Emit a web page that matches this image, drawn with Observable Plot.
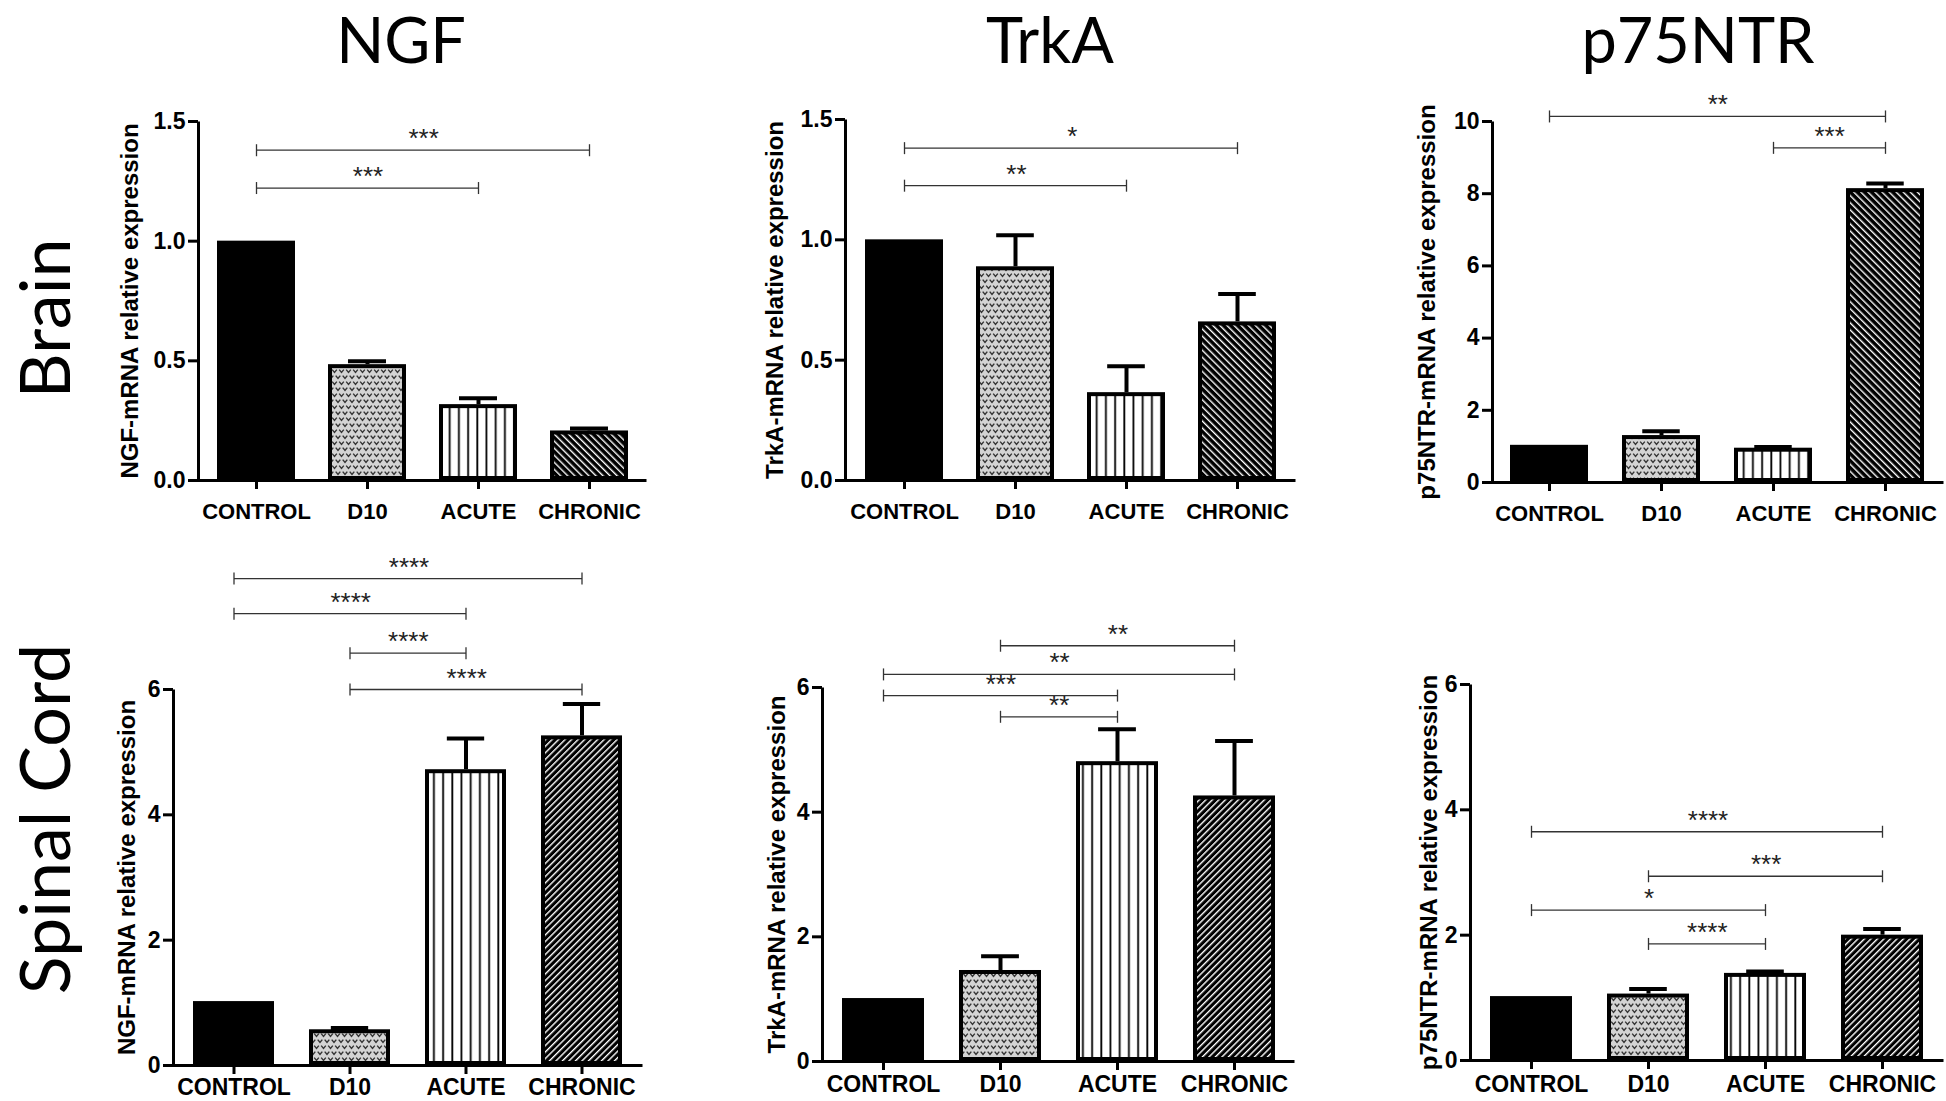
<!DOCTYPE html>
<html>
<head>
<meta charset="utf-8">
<script src="https://cdn.jsdelivr.net/npm/d3@7"></script>
<script src="https://cdn.jsdelivr.net/npm/@observablehq/plot@0.6"></script>
<style>
html, body { margin: 0; padding: 0; background: #fff; overflow: hidden; }
#fig { position: relative; width: 1946px; height: 1101px; overflow: hidden; background: #fff; }
.panel { position: absolute; }
#labels { position: absolute; left: 0; top: 0; pointer-events: none; }
</style>
</head>
<body>
<div id="fig"></div>
<script>
// ---------------- DATA ----------------
const categories = ["CONTROL", "D10", "ACUTE", "CHRONIC"];
const genes = ["NGF", "TrkA", "p75NTR"];
const tissues = ["Brain", "Spinal Cord"];

// Brain: mean and SEM (upper error only)
const ngfBrainMean  = [1.00, 0.484, 0.317, 0.207];
const ngfBrainSem   = [0, 0.014, 0.027, 0.010];
const trkaBrainMean = [1.00, 0.888, 0.365, 0.659];
const trkaBrainSem  = [0, 0.131, 0.110, 0.116];
const p75BrainMean  = [1.03, 1.30, 0.95, 8.14];
const p75BrainSem   = [0, 0.12, 0.03, 0.14];

// Spinal cord
const ngfSpinalMean  = [1.02, 0.57, 4.72, 5.26];
const ngfSpinalSem   = [0, 0.03, 0.50, 0.51];
const trkaSpinalMean = [1.01, 1.46, 4.81, 4.26];
const trkaSpinalSem  = [0, 0.23, 0.52, 0.88];
const p75SpinalMean  = [1.02, 1.06, 1.39, 2.00];
const p75SpinalSem   = [0, 0.08, 0.03, 0.10];

// Significance brackets: [from, to, level, label]
const ngfBrainSig = [["CONTROL", "CHRONIC", 1.38, "***"], ["CONTROL", "ACUTE", 1.222, "***"]];
const trkaBrainSig = [["CONTROL", "CHRONIC", 1.381, "*"], ["CONTROL", "ACUTE", 1.225, "**"]];
const p75BrainSig = [["CONTROL", "CHRONIC", 10.14, "**"], ["ACUTE", "CHRONIC", 9.27, "***"]];
const ngfSpinalSig = [["CONTROL", "CHRONIC", 7.77, "****"], ["CONTROL", "ACUTE", 7.21, "****"],
                      ["D10", "ACUTE", 6.58, "****"], ["D10", "CHRONIC", 6.0, "****"]];
const trkaSpinalSig = [["D10", "CHRONIC", 6.67, "**"], ["CONTROL", "CHRONIC", 6.21, "**"],
                       ["CONTROL", "ACUTE", 5.87, "***"], ["D10", "ACUTE", 5.53, "**"]];
const p75SpinalSig = [["CONTROL", "CHRONIC", 3.65, "****"], ["D10", "CHRONIC", 2.94, "***"],
                      ["CONTROL", "ACUTE", 2.40, "*"], ["D10", "ACUTE", 1.86, "****"]];

// Axis ticks and labels
const brainLowTicks = [0, 0.5, 1.0, 1.5];
const p75BrainTicks = [0, 2, 4, 6, 8, 10];
const spinalTicks = [0, 2, 4, 6];
const yLabels = ["NGF-mRNA relative expression", "TrkA-mRNA relative expression", "p75NTR-mRNA relative expression"];

// ---------------- LAYOUT (pixels) ----------------
const W = 1946, H = 1101;
const FONT = "'Liberation Sans', Arial, Helvetica, sans-serif";
const panels = [
  {id: "nb", mean: ngfBrainMean, sem: ngfBrainSem, sig: ngfBrainSig, ticks: brainLowTicks, fmt: d3.format(".1f"), ylabel: yLabels[0],
   axisX: 198, xEnd: 646, yTop: 121, y0: 480, svgTop: 80, labelOff: 68, xPad: 14, xFont: 22, row: 0},
  {id: "tb", mean: trkaBrainMean, sem: trkaBrainSem, sig: trkaBrainSig, ticks: brainLowTicks, fmt: d3.format(".1f"), ylabel: yLabels[1],
   axisX: 845, xEnd: 1295, yTop: 119, y0: 479.5, svgTop: 80, labelOff: 70, xPad: 14, xFont: 22, row: 0},
  {id: "pb", mean: p75BrainMean, sem: p75BrainSem, sig: p75BrainSig, ticks: p75BrainTicks, fmt: d3.format("d"), ylabel: yLabels[2],
   axisX: 1492, xEnd: 1943, yTop: 120.5, y0: 481.5, svgTop: 80, labelOff: 65, xPad: 14, xFont: 22, row: 0},
  {id: "ns", mean: ngfSpinalMean, sem: ngfSpinalSem, sig: ngfSpinalSig, ticks: spinalTicks, fmt: d3.format("d"), ylabel: yLabels[0],
   axisX: 172.6, xEnd: 642, yTop: 688.5, y0: 1065, svgTop: 540, labelOff: 46, xPad: 4, xFont: 23, row: 1},
  {id: "ts", mean: trkaSpinalMean, sem: trkaSpinalSem, sig: trkaSpinalSig, ticks: spinalTicks, fmt: d3.format("d"), ylabel: yLabels[1],
   axisX: 822, xEnd: 1293.5, yTop: 686.7, y0: 1061.3, svgTop: 540, labelOff: 45.5, xPad: 5, xFont: 23, row: 1},
  {id: "ps", mean: p75SpinalMean, sem: p75SpinalSem, sig: p75SpinalSig, ticks: spinalTicks, fmt: d3.format("d"), ylabel: yLabels[2],
   axisX: 1470, xEnd: 1943, yTop: 684.2, y0: 1060, svgTop: 540, labelOff: 41, xPad: 6, xFont: 23, row: 1}
];

const vbar = {draw(ctx, size) { const h = Math.sqrt(size / Math.PI); ctx.moveTo(0, -h); ctx.lineTo(0, h); }};

function patternDefs(id, row) {
  const rot = row === 0 ? -45 : 45;
  const pw = row === 0 ? 5 : 4.6;
  return () => {
    const d = document.createElementNS("http://www.w3.org/2000/svg", "defs");
    d.innerHTML = `
      <pattern id="${id}-d10" patternUnits="userSpaceOnUse" width="7" height="12">
        <rect width="7" height="12" fill="#d4d4d4"/>
        <path d="M1.2,1.6 L3.5,4.4 L5.8,1.6" fill="none" stroke="#333" stroke-width="1.4"/>
        <path d="M-2.3,7.6 L0,10.4 L2.3,7.6 M4.7,7.6 L7,10.4 L9.3,7.6" fill="none" stroke="#333" stroke-width="1.4"/>
      </pattern>
      <pattern id="${id}-acute" patternUnits="userSpaceOnUse" width="9.2" height="10">
        <rect width="9.2" height="10" fill="#fff"/>
        <rect x="4" width="1.8" height="10" fill="#000"/>
      </pattern>
      <pattern id="${id}-chronic" patternUnits="userSpaceOnUse" width="${pw}" height="10" patternTransform="rotate(${rot})">
        <rect width="${pw}" height="10" fill="#000"/>
        <rect x="0" width="1.4" height="10" fill="#fff"/>
      </pattern>`;
    return d;
  };
}

const fig = document.getElementById("fig");

for (const p of panels) {
  const ML = 112, MR = 3, MB = 40;
  const left = Math.round(p.axisX - ML);
  const width = Math.round(p.xEnd - p.axisX + ML + MR);
  const marginTop = Math.round(p.yTop - p.svgTop);
  const height = Math.round(p.y0 - p.svgTop + MB);
  const top = Math.round(p.yTop) - marginTop;
  const rows = categories.map((c, i) => ({cat: c, mean: p.mean[i], sem: p.sem[i], top: p.mean[i] + p.sem[i]}));
  const errRows = rows.filter(d => d.sem > 0);
  const xOpts = {type: "band", domain: categories, paddingInner: 0.30, paddingOuter: 0.16};
  const xs = Plot.scale({x: {...xOpts, range: [ML, width - MR]}});
  const step = xs.step ?? (width - ML - MR) / (categories.length - 0.30 + 2 * 0.16);
  const bw = xs.bandwidth ?? step * 0.70;
  const capInset = Math.max(0, (bw - 38) / 2);
  const fw = width - ML - MR, fh = height - marginTop - MB;
  const fills = {CONTROL: "#000", D10: `url(#${p.id}-d10)`, ACUTE: `url(#${p.id}-acute)`, CHRONIC: `url(#${p.id}-chronic)`};
  const ends = p.sig.flatMap(s => [{cat: s[0], y: s[2]}, {cat: s[1], y: s[2]}]);

  const marks = [
    patternDefs(p.id, p.row),
    ...categories.map(c => Plot.barY(rows, {filter: d => d.cat === c, x: "cat", y: "mean", fill: fills[c], stroke: "#000", strokeWidth: 4, inset: 2})),
    Plot.ruleX(errRows, {x: "cat", y1: "mean", y2: "top", stroke: "#000", strokeWidth: 4}),
    Plot.tickY(errRows, {x: "cat", y: "top", stroke: "#000", strokeWidth: 4, insetLeft: capInset, insetRight: capInset}),
    Plot.frame({stroke: "#000", strokeWidth: 3, strokeDasharray: `0 ${fw + fh} ${fw + fh}`}),
    Plot.axisY({ticks: p.ticks, tickFormat: p.fmt, tickSize: 10, tickPadding: 3, strokeWidth: 3, fontSize: 23, fontWeight: "bold", label: null}),
    Plot.axisX({tickSize: 9, tickPadding: p.xPad, strokeWidth: 3, fontSize: p.xFont, fontWeight: "bold", label: null}),
    Plot.text([p.ylabel], {text: d => d, frameAnchor: "left", textAnchor: "middle", lineAnchor: "middle", rotate: -90, dx: -p.labelOff, fontSize: 24, fontWeight: "bold", fill: "#000"}),
    Plot.link(p.sig, {x1: d => d[0], x2: d => d[1], y1: d => d[2], y2: d => d[2], stroke: "#333", strokeWidth: 1.3}),
    Plot.dot(ends, {x: "cat", y: "y", symbol: vbar, r: 6, stroke: "#333", strokeWidth: 1.3, fill: "none"}),
    ...p.sig.map(s => Plot.text([s], {
      x: d => d[0], y: d => d[2], text: d => d[3],
      dx: (categories.indexOf(s[1]) - categories.indexOf(s[0])) / 2 * step,
      lineAnchor: "bottom", dy: -3, fontSize: 26, fontWeight: "normal", fill: "#222"
    }))
  ];

  const chart = Plot.plot({
    width, height,
    marginLeft: ML, marginRight: MR, marginTop, marginBottom: MB,
    x: xOpts,
    y: {domain: [0, p.ticks[p.ticks.length - 1]]},
    style: {fontFamily: FONT, fontSize: "22px", fontWeight: "bold", color: "#000", background: "transparent", overflow: "visible"},
    marks
  });
  const div = document.createElement("div");
  div.className = "panel";
  div.style.left = left + "px";
  div.style.top = top + "px";
  div.style.width = width + "px";
  div.style.height = height + "px";
  div.appendChild(chart);
  fig.appendChild(div);
}

// ---------------- Titles and row labels ----------------
const titleX = [401, 1050, 1698];
const titleBaseline = 63;
const titleSize = 63;
const rowLabelY = [318.5, 819];
const rowLabelBaseline = 70;
const rowLabelSize = 70;
const ns = "http://www.w3.org/2000/svg";
const lab = document.createElementNS(ns, "svg");
lab.setAttribute("id", "labels");
lab.setAttribute("width", W);
lab.setAttribute("height", H);
genes.forEach((g, i) => {
  const t = document.createElementNS(ns, "text");
  t.setAttribute("x", titleX[i]);
  t.setAttribute("y", titleBaseline);
  t.setAttribute("text-anchor", "middle");
  t.setAttribute("font-family", "Lato, 'Open Sans', sans-serif");
  t.setAttribute("font-size", titleSize);
  t.setAttribute("fill", "#000");
  t.textContent = g;
  lab.appendChild(t);
});
tissues.forEach((s, i) => {
  const t = document.createElementNS(ns, "text");
  t.setAttribute("transform", `translate(${rowLabelBaseline},${rowLabelY[i]}) rotate(-90)`);
  t.setAttribute("text-anchor", "middle");
  t.setAttribute("font-family", "Lato, 'Open Sans', sans-serif");
  t.setAttribute("font-size", rowLabelSize);
  t.setAttribute("fill", "#000");
  t.textContent = s;
  lab.appendChild(t);
});
fig.appendChild(lab);
</script>
</body>
</html>
